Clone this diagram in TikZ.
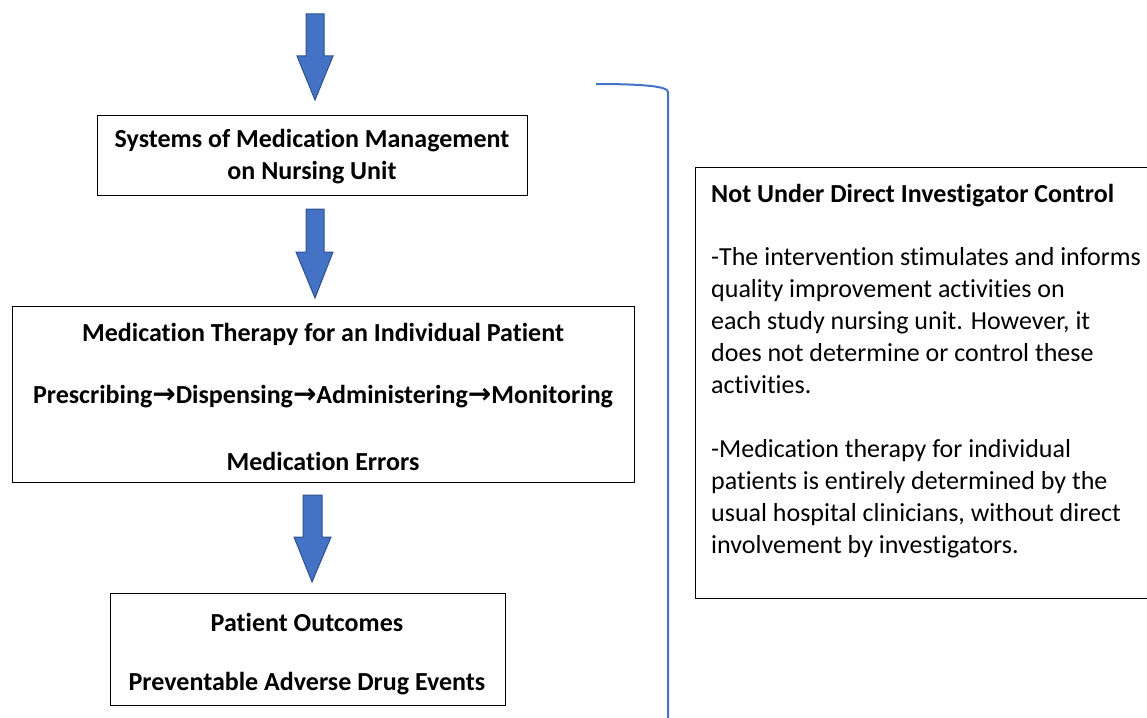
\documentclass[tikz,border=0pt]{standalone}
\usepackage{fontspec}
\setmainfont{Carlito}[Ligatures=NoCommon]
\newfontfamily\arrowfont{DejaVu Sans}
\newcommand{\rarr}{{\arrowfont\bfseries\fontsize{28}{28}\selectfont→}}
\definecolor{arrowblue}{HTML}{4472C4}
\definecolor{arrowedge}{HTML}{2F528F}
\begin{document}
\begin{tikzpicture}[x=1pt,y=-1pt,
  box/.style={draw=black,line width=1.3pt,inner sep=0pt},
  lbl/.style={font=\fontsize{26}{32}\selectfont\bfseries,align=center,inner sep=0pt},
  body/.style={font=\fontsize{26}{32}\selectfont,align=left,inner sep=0pt,anchor=north west},
  blockarrow/.style={fill=arrowblue,draw=arrowedge,line width=1pt,line join=miter},
  bracket/.style={draw=arrowblue,line width=2pt}]
\useasboundingbox (0,0) rectangle (1147,717);
\clip (0,0) rectangle (1147,717);
% boxes
\node[box,minimum width=430pt,minimum height=80pt,anchor=north west] (sys) at (97,115) {};
\node[box,minimum width=622pt,minimum height=176pt,anchor=north west] (ther) at (12,306) {};
\node[box,minimum width=395pt,minimum height=112pt,anchor=north west] (out) at (110,593) {};
\node[box,minimum width=480pt,minimum height=431pt,anchor=north west] (ctrl) at (695,167) {};
% box texts
\node[lbl] (sysA) at (312,141) {Systems of Medication Management};
\node[lbl] (sysB) at (312,173) {on Nursing Unit};
\node[lbl] (therA) at (323,334) {Medication Therapy for an Individual Patient};
\node[lbl] (therB) at (323,397) {Prescribing\rarr Dispensing\rarr Administering\rarr Monitoring};
\node[lbl] (therC) at (323,461) {Medication Errors};
\node[lbl] (outA) at (307,622) {Patient Outcomes};
\node[lbl] (outB) at (307,684) {Preventable Adverse Drug Events};
\node[lbl,anchor=west] (ctrlT) at (711,196) {Not Under Direct Investigator Control};
\node[body] (ctrlB) at (711,247) {-The intervention stimulates and informs\\quality improvement activities on\\each study nursing unit. However, it\\does not determine or control these\\activities.\\[32pt]-Medication therapy for individual\\patients is entirely determined by the\\usual hospital clinicians, without direct\\involvement by investigators.};
% block arrows
\draw[blockarrow] (306,14) -- (324,14) -- (324,56) -- (333,56) -- (315,100) -- (297,56) -- (306,56) -- cycle;
\draw[blockarrow] (306,209) -- (324,209) -- (324,252) -- (333,252) -- (315,298) -- (296,252) -- (306,252) -- cycle;
\draw[blockarrow] (303,495) -- (322,495) -- (322,537) -- (331,537) -- (312,582) -- (294,537) -- (303,537) -- cycle;
% bracket
\coordinate (brA) at (596,84);
\coordinate (brB) at (668,92);
\coordinate (brC) at (668,720);
\draw[bracket] (brA) .. controls (640,84) and (668,86) .. (brB) -- (brC);
\end{tikzpicture}
\end{document}
